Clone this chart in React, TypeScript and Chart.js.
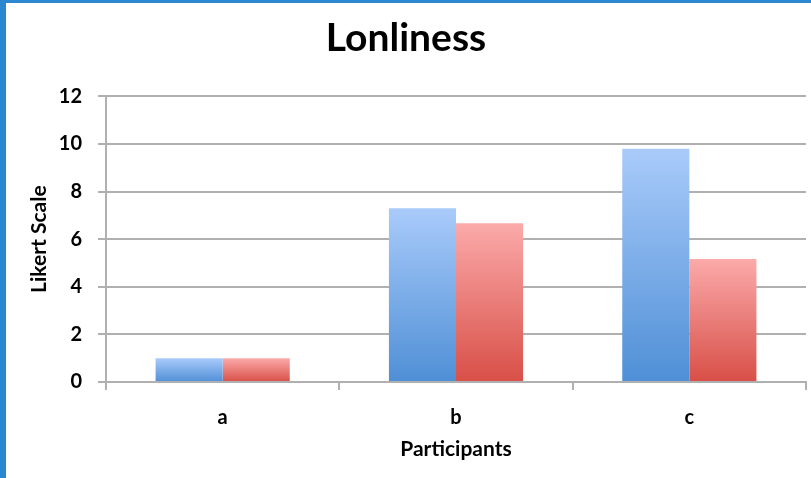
import React, { useEffect, useRef } from "react";
import { Chart, registerables } from "chart.js";

Chart.register(...registerables);

const categories = ["a", "b", "c"];
const seriesBlue = [1, 7.3, 9.8];
const seriesRed = [1, 6.67, 5.17];
const yTicksMax = 12;
const yTickStep = 2;

const FONT = "Lato, 'Open Sans', sans-serif";

function barGradient(top: string, bottom: string) {
  return (ctx: any) => {
    const chart = ctx.chart;
    const y = chart.scales?.y;
    if (!y || ctx.parsed == null) return bottom;
    const yTop = y.getPixelForValue(ctx.parsed.y);
    const yBot = y.getPixelForValue(0);
    if (!isFinite(yTop) || !isFinite(yBot) || yTop === yBot) return bottom;
    const g = chart.ctx.createLinearGradient(0, yTop, 0, yBot);
    g.addColorStop(0, top);
    g.addColorStop(1, bottom);
    return g;
  };
}

export default function App() {
  const ref = useRef<HTMLCanvasElement | null>(null);
  useEffect(() => {
    if (!ref.current) return;
    const chart = new Chart(ref.current, {
      type: "bar",
      data: {
        labels: categories,
        datasets: [
          {
            label: "Series 1",
            data: seriesBlue,
            backgroundColor: barGradient("#a9cbfa", "#4f8fd6"),
            borderWidth: 0,
          },
          {
            label: "Series 2",
            data: seriesRed,
            backgroundColor: barGradient("#fbaaaa", "#d84f47"),
            borderWidth: 0,
          },
        ],
      },
      options: {
        animation: false,
        responsive: false,
        maintainAspectRatio: false,
        layout: { padding: { left: 0, right: 5, top: 0, bottom: 0 } },
        plugins: {
          legend: { display: false },
          tooltip: { enabled: false },
          title: {
            display: true,
            text: "Lonliness",
            color: "#000",
            font: { family: FONT, size: 39, weight: "bold", lineHeight: 1.2 },
            padding: { top: 12, bottom: 34.6 },
          },
        },
        datasets: {
          bar: { categoryPercentage: 0.575, barPercentage: 1 },
        } as any,
        scales: {
          x: {
            grid: {
              offset: true,
              drawOnChartArea: false,
              drawTicks: true,
              tickLength: 8,
              color: "#b0b0b0",
              lineWidth: 2,
            },
            border: { display: true, color: "#b0b0b0", width: 2 },
            ticks: {
              color: "#000",
              padding: 16,
              font: { family: FONT, size: 20, weight: "bold" },
            },
            title: {
              display: true,
              text: "Participants",
              color: "#000",
              font: { family: FONT, size: 21, weight: "bold", lineHeight: 1.2 },
              padding: { top: 0, bottom: 16.4 },
            },
            afterFit: (scale: any) => {
              scale.height = 96;
            },
          },
          y: {
            min: 0,
            max: yTicksMax,
            ticks: {
              stepSize: yTickStep,
              color: "#000",
              padding: 16,
              font: { family: FONT, size: 20, weight: "bold" },
            },
            grid: {
              drawTicks: true,
              tickLength: 8,
              color: "#b0b0b0",
              lineWidth: 2,
            },
            border: { display: true, color: "#b0b0b0", width: 2 },
            title: {
              display: true,
              text: "Likert Scale",
              color: "#000",
              font: { family: FONT, size: 21, weight: "bold", lineHeight: 1.2 },
              padding: { top: 20.4, bottom: 0 },
            },
            afterFit: (scale: any) => {
              scale.width = 100;
            },
          },
        },
      },
    });
    return () => chart.destroy();
  }, []);

  return (
    <div
      style={{
        position: "fixed",
        left: 0,
        top: 0,
        width: 811,
        height: 478,
        boxSizing: "border-box",
        borderLeft: "6px solid #2a87d0",
        borderTop: "3px solid #2a87d0",
        background: "#fff",
      }}
    >
      <canvas
        ref={ref}
        width={805}
        height={475}
        style={{ display: "block", width: 805, height: 475 }}
      />
    </div>
  );
}
